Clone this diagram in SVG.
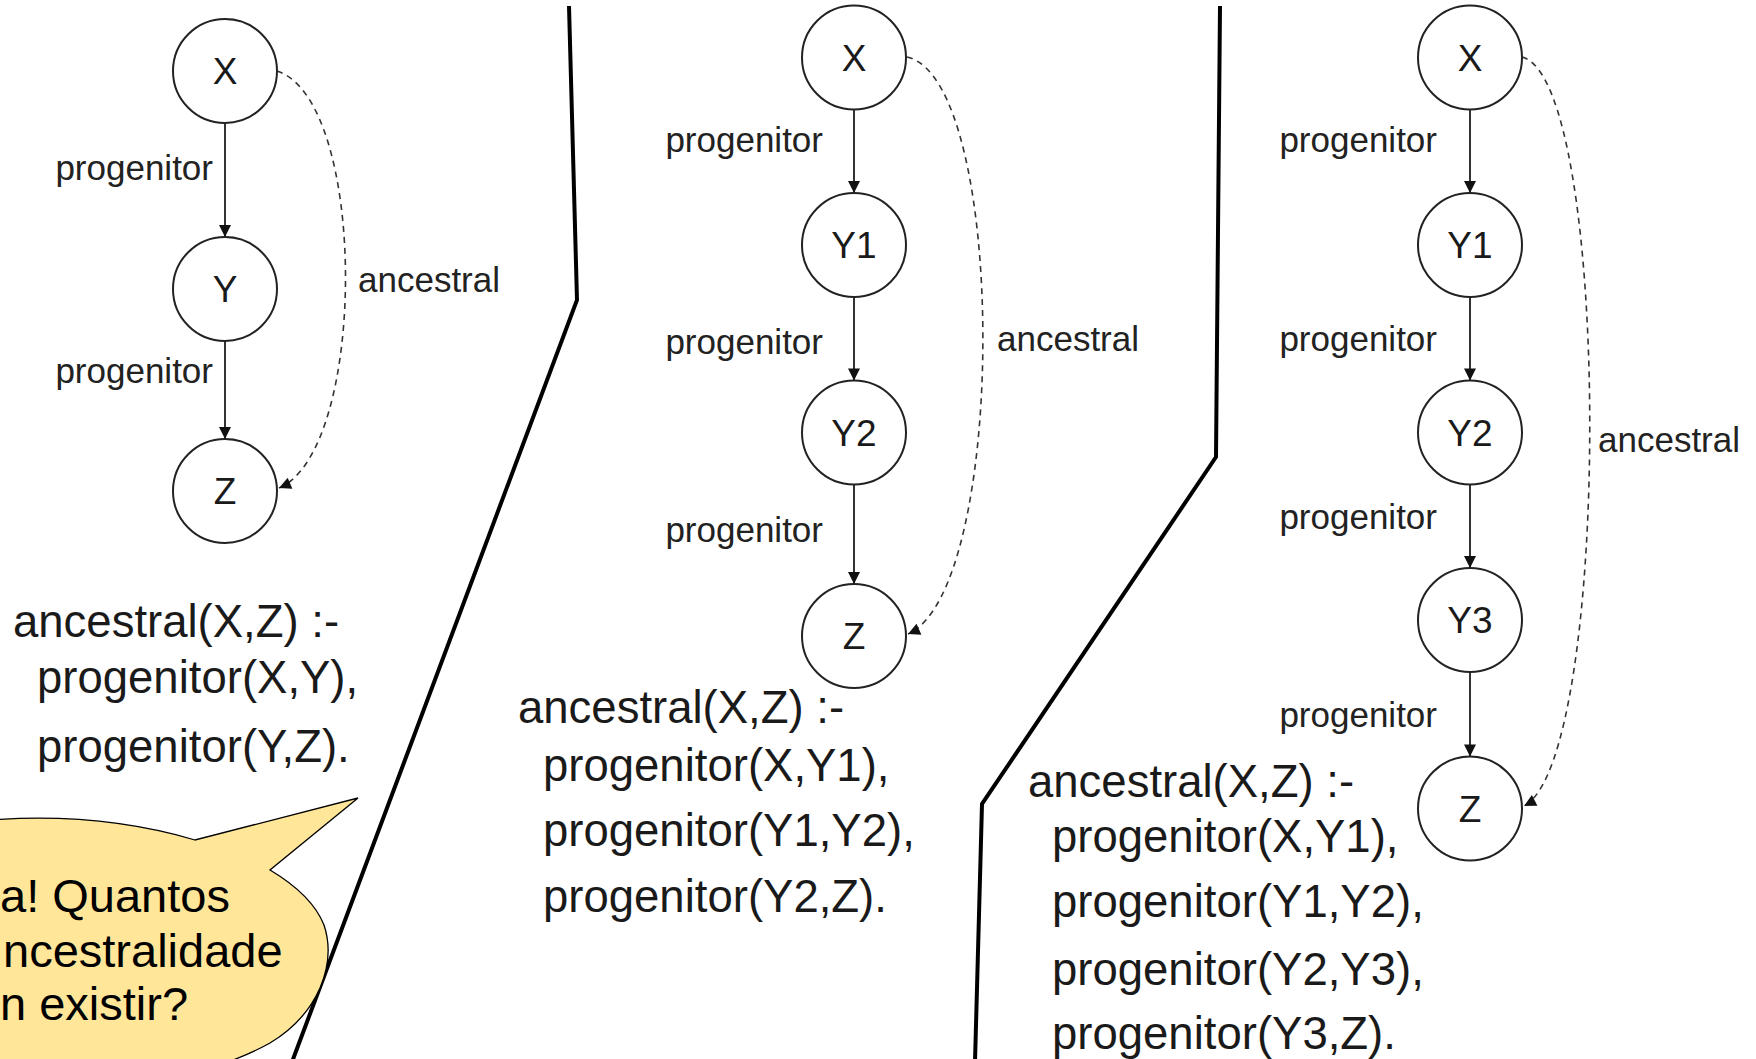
<svg xmlns="http://www.w3.org/2000/svg" width="1756" height="1059" viewBox="0 0 1756 1059">
<style>
  .node circle { fill: #ffffff; stroke: #222222; stroke-width: 2; }
  .node text { font-family: "Liberation Sans", Arial, sans-serif; font-size: 37px; fill: #1a1a1a; text-anchor: middle; }
  .edge { stroke: #333333; stroke-width: 2; fill: none; marker-end: url(#arr); }
  .anc { stroke: #333333; stroke-width: 1.6; fill: none; stroke-dasharray: 6 5; marker-end: url(#arr); }
  .lbl { font-family: "Liberation Sans", Arial, sans-serif; font-size: 35px; fill: #222222; }
  .lblp { text-anchor: end; }
  .code { font-family: "Liberation Sans", Arial, sans-serif; font-size: 45.5px; fill: #1a1a1a; }
  .divider { stroke: #000000; stroke-width: 4; fill: none; stroke-linejoin: miter; }
  .bubble { fill: #ffe699; stroke: #000000; stroke-width: 1.3; }
  .btext { font-family: "Liberation Sans", Arial, sans-serif; font-size: 47px; fill: #000000; }
</style>
<defs>
  <marker id="arr" viewBox="0 0 10 10" refX="10" refY="5" markerWidth="13" markerHeight="12" markerUnits="userSpaceOnUse" orient="auto">
    <path d="M0,0 L10,5 L0,10 z" fill="#111111"/>
  </marker>
</defs>
<rect x="0" y="0" width="1756" height="1059" fill="#ffffff"/>

<g id="dividers">
  <path class="divider" d="M569 6 L577 300 L292 1062"/>
  <path class="divider" d="M1220 6 L1216 457 L982 804 L975 1062"/>
</g>

<g id="connectors">
  <!-- panel 1 -->
  <line class="edge" x1="225" y1="123" x2="225" y2="237"/>
  <line class="edge" x1="225" y1="341" x2="225" y2="439"/>
  <path class="anc" d="M277 71 C368 100, 368 450, 279 488"/>
  <!-- panel 2 -->
  <line class="edge" x1="854" y1="109.5" x2="854" y2="193"/>
  <line class="edge" x1="854" y1="297" x2="854" y2="380.5"/>
  <line class="edge" x1="854" y1="484.5" x2="854" y2="584"/>
  <path class="anc" d="M907 57 C1008 80, 1008 590, 908 634"/>
  <!-- panel 3 -->
  <line class="edge" x1="1470" y1="109.5" x2="1470" y2="193"/>
  <line class="edge" x1="1470" y1="297" x2="1470" y2="380.5"/>
  <line class="edge" x1="1470" y1="484.5" x2="1470" y2="568"/>
  <line class="edge" x1="1470" y1="672" x2="1470" y2="756.5"/>
  <path class="anc" d="M1522 57 C1612 80, 1612 760, 1524 806"/>
</g>

<g id="edge-labels">
  <text class="lbl lblp" x="213" y="180">progenitor</text>
  <text class="lbl lblp" x="213" y="383">progenitor</text>
  <text class="lbl" x="358" y="292">ancestral</text>
  <text class="lbl lblp" x="823" y="152">progenitor</text>
  <text class="lbl lblp" x="823" y="354">progenitor</text>
  <text class="lbl lblp" x="823" y="542">progenitor</text>
  <text class="lbl" x="997" y="351">ancestral</text>
  <text class="lbl lblp" x="1437" y="152">progenitor</text>
  <text class="lbl lblp" x="1437" y="351">progenitor</text>
  <text class="lbl lblp" x="1437" y="529">progenitor</text>
  <text class="lbl lblp" x="1437" y="727">progenitor</text>
  <text class="lbl" x="1598" y="452">ancestral</text>
</g>

<g id="p1-X" class="node"><circle cx="225" cy="71" r="52"/><text x="225" y="84">X</text></g>
<g id="p1-Y" class="node"><circle cx="225" cy="289" r="52"/><text x="225" y="302">Y</text></g>
<g id="p1-Z" class="node"><circle cx="225" cy="491" r="52"/><text x="225" y="504">Z</text></g>

<g id="p2-X" class="node"><circle cx="854" cy="57.5" r="52"/><text x="854" y="70.5">X</text></g>
<g id="p2-Y1" class="node"><circle cx="854" cy="245" r="52"/><text x="854" y="258">Y1</text></g>
<g id="p2-Y2" class="node"><circle cx="854" cy="432.5" r="52"/><text x="854" y="445.5">Y2</text></g>
<g id="p2-Z" class="node"><circle cx="854" cy="636" r="52"/><text x="854" y="649">Z</text></g>

<g id="p3-X" class="node"><circle cx="1470" cy="57.5" r="52"/><text x="1470" y="70.5">X</text></g>
<g id="p3-Y1" class="node"><circle cx="1470" cy="245" r="52"/><text x="1470" y="258">Y1</text></g>
<g id="p3-Y2" class="node"><circle cx="1470" cy="432.5" r="52"/><text x="1470" y="445.5">Y2</text></g>
<g id="p3-Y3" class="node"><circle cx="1470" cy="620" r="52"/><text x="1470" y="633">Y3</text></g>
<g id="p3-Z" class="node"><circle cx="1470" cy="808.5" r="52"/><text x="1470" y="821.5">Z</text></g>

<g id="code1" class="code">
  <text x="13" y="637">ancestral(X,Z) :-</text>
  <text x="37" y="693">progenitor(X,Y),</text>
  <text x="37" y="762">progenitor(Y,Z).</text>
</g>
<g id="code2" class="code">
  <text x="518" y="723">ancestral(X,Z) :-</text>
  <text x="543" y="781">progenitor(X,Y1),</text>
  <text x="543" y="846">progenitor(Y1,Y2),</text>
  <text x="543" y="912">progenitor(Y2,Z).</text>
</g>
<g id="code3" class="code">
  <text x="1028" y="797">ancestral(X,Z) :-</text>
  <text x="1052" y="852">progenitor(X,Y1),</text>
  <text x="1052" y="917">progenitor(Y1,Y2),</text>
  <text x="1052" y="985">progenitor(Y2,Y3),</text>
  <text x="1052" y="1049">progenitor(Y3,Z).</text>
</g>

<g id="callout">
  <path class="bubble" d="M-10 820 Q100 812 195 840 L358 798 L270 870 Q312 895 324 925 Q334 955 320 988 Q305 1022 270 1043 Q252 1053 228 1062 L-10 1062 Z"/>
  <text class="btext" x="0" y="912">a! Quantos</text>
  <text class="btext" x="3" y="967">ncestralidade</text>
  <text class="btext" x="0" y="1020">n existir?</text>
</g>
</svg>
